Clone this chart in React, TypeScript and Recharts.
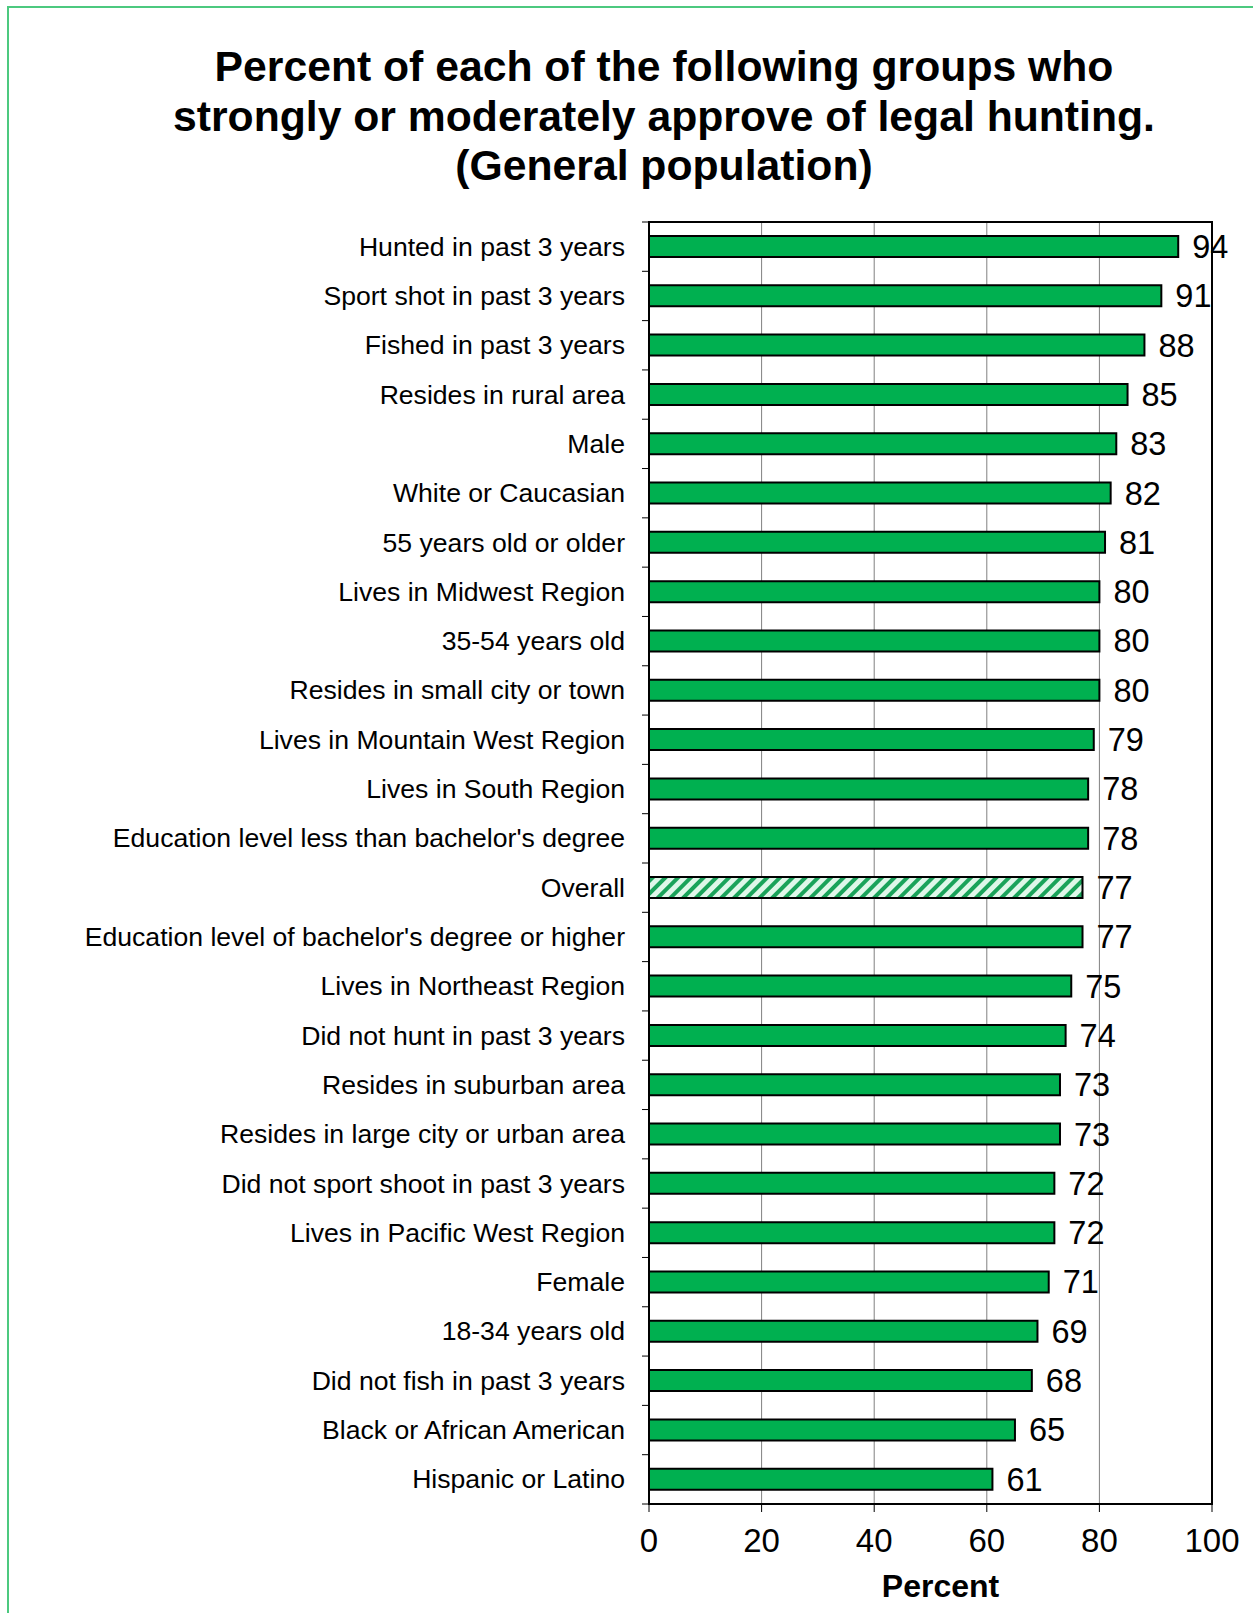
import React from 'react';
import { BarChart, Bar, XAxis, YAxis, CartesianGrid, Cell, LabelList, ReferenceArea } from 'recharts';

const categories = [
  'Hunted in past 3 years',
  'Sport shot in past 3 years',
  'Fished in past 3 years',
  'Resides in rural area',
  'Male',
  'White or Caucasian',
  '55 years old or older',
  'Lives in Midwest Region',
  '35-54 years old',
  'Resides in small city or town',
  'Lives in Mountain West Region',
  'Lives in South Region',
  "Education level less than bachelor's degree",
  'Overall',
  "Education level of bachelor's degree or higher",
  'Lives in Northeast Region',
  'Did not hunt in past 3 years',
  'Resides in suburban area',
  'Resides in large city or urban area',
  'Did not sport shoot in past 3 years',
  'Lives in Pacific West Region',
  'Female',
  '18-34 years old',
  'Did not fish in past 3 years',
  'Black or African American',
  'Hispanic or Latino',
];

const values = [94, 91, 88, 85, 83, 82, 81, 80, 80, 80, 79, 78, 78, 77, 77, 75, 74, 73, 73, 72, 72, 71, 69, 68, 65, 61];

const xTicks = [0, 20, 40, 60, 80, 100];

const data = categories.map((name, i) => ({ name, value: values[i] }));

const W = 1253;
const H = 1613;
const TOP = 222;
const BOTTOM = 109;
const HALF_BAND = (H - TOP - BOTTOM) / categories.length / 2;
const FONT = '"Liberation Sans", Arial, sans-serif';

const YTick = (props: any) => {
  const { x, y, payload, index } = props;
  return (
    <g>
      <line x1={x - 7} x2={x} y1={y - HALF_BAND} y2={y - HALF_BAND} stroke="#000" strokeWidth={1} />
      {index === categories.length - 1 && (
        <line x1={x - 7} x2={x} y1={y + HALF_BAND} y2={y + HALF_BAND} stroke="#000" strokeWidth={1} />
      )}
      <text x={x - 24} y={y} textAnchor="end" dominantBaseline="central" fontSize={26.6} fill="#000" fontFamily={FONT}>
        {payload.value}
      </text>
    </g>
  );
};

export default function App() {
  return (
    <div style={{ position: 'relative', width: W, height: H, background: '#fff', fontFamily: FONT }}>
      <style>{`body{margin:0}`}</style>
      <div
        style={{
          position: 'absolute',
          left: 7,
          top: 6,
          width: W,
          height: H,
          borderLeft: '2px solid #4cc97f',
          borderTop: '2px solid #4cc97f',
        }}
      />
      <div
        style={{
          position: 'absolute',
          left: 0,
          top: 42,
          width: 1328,
          textAlign: 'center',
          fontSize: 42.7,
          fontWeight: 'bold',
          lineHeight: '49.5px',
          color: '#000',
        }}
      >
        Percent of each of the following groups who
        <br />
        strongly or moderately approve of legal hunting.
        <br />
        (General population)
      </div>
      <div style={{ position: 'absolute', left: 0, top: 0 }}>
        <BarChart
          width={W}
          height={H}
          data={data}
          layout="vertical"
          margin={{ top: TOP, right: 41, left: 0, bottom: 0 }}
          barCategoryGap={0}
        >
          <defs>
            <pattern id="hatch" width="9" height="9" patternUnits="userSpaceOnUse" patternTransform="rotate(45)">
              <rect width="9" height="9" fill="#dff7e9" />
              <rect width="4" height="9" fill="#1aa35a" />
            </pattern>
          </defs>
          <CartesianGrid horizontal={false} stroke="#808080" strokeWidth={1} />
          <XAxis
            type="number"
            domain={[0, 100]}
            ticks={xTicks}
            height={BOTTOM}
            axisLine={{ stroke: '#000', strokeWidth: 2 }}
            tickLine={{ stroke: '#000', strokeWidth: 1 }}
            tickSize={8}
            tickMargin={17}
            tick={{ fontSize: 33, fill: '#000', fontFamily: FONT }}
            label={{
              value: 'Percent',
              position: 'insideBottom',
              offset: 16,
              dx: 10,
              fontSize: 32,
              fontWeight: 'bold',
              fill: '#000',
              fontFamily: FONT,
            }}
          />
          <YAxis
            type="category"
            dataKey="name"
            width={649}
            axisLine={{ stroke: '#000', strokeWidth: 2 }}
            tickLine={false}
            tickSize={0}
            tickMargin={0}
            interval={0}
            tick={<YTick />}
          />
          <ReferenceArea x1={0} x2={100} fill="none" stroke="#000" strokeWidth={2} ifOverflow="visible" />
          <Bar dataKey="value" barSize={21} fill="#00b050" stroke="#000" strokeWidth={2} isAnimationActive={false}>
            {data.map((d, i) => (
              <Cell key={i} fill={d.name === 'Overall' ? 'url(#hatch)' : '#00b050'} />
            ))}
            <LabelList dataKey="value" position="right" offset={14} fontSize={32.5} fill="#000" fontFamily={FONT} />
          </Bar>
        </BarChart>
      </div>
    </div>
  );
}
